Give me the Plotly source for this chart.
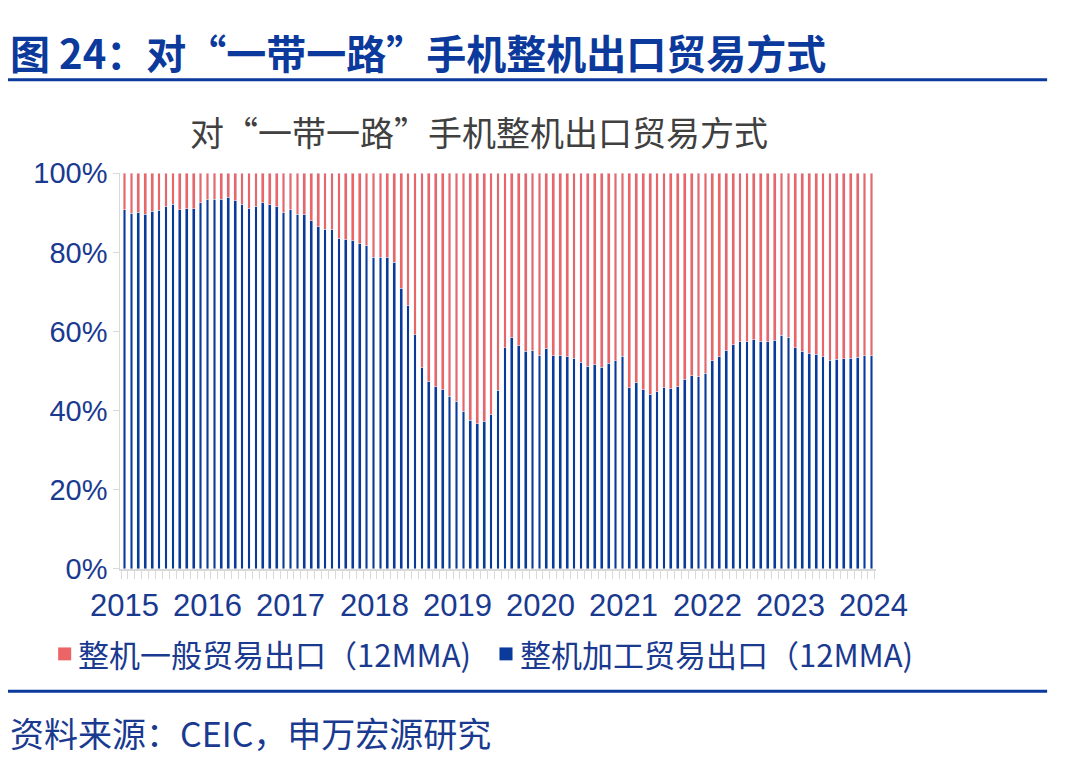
import plotly.graph_objs as go
import pandas as pd

months = pd.date_range("2015-01-01", "2024-01-01", freq="MS").strftime("%Y-%m").tolist()

# 整机加工贸易出口占比 (12MMA), %
processing = [
    90.8, 89.9, 90.1, 89.7, 90.4, 90.7, 91.6, 92.2, 90.8, 91.0, 91.0, 92.5,
    93.3, 93.5, 93.5, 94.0, 93.0, 92.2, 91.0, 91.6, 92.5, 92.1, 91.5, 90.0,
    90.8, 89.7, 89.5, 88.0, 86.5, 85.9, 85.7, 83.4, 83.2, 83.0, 82.2, 81.7,
    78.8, 78.8, 78.8, 77.5, 70.9, 66.7, 59.2, 50.8, 47.4, 46.1, 45.3, 43.7,
    42.4, 39.8, 37.6, 36.7, 37.3, 39.0, 45.1, 55.9, 58.4, 56.4, 55.0, 55.2,
    54.0, 55.6, 53.9, 53.9, 53.6, 53.2, 52.3, 51.2, 51.6, 51.0, 52.0, 52.6,
    53.7, 45.8, 47.1, 45.3, 44.2, 44.8, 45.8, 45.5, 46.0, 48.0, 48.8, 48.6,
    49.4, 52.6, 53.6, 55.2, 56.7, 57.4, 57.4, 57.9, 57.6, 57.4, 57.8, 59.1,
    58.6, 55.9, 55.0, 54.5, 54.2, 53.6, 52.8, 53.0, 53.1, 53.2, 53.5, 53.9,
    53.9,
]
general = [round(100 - v, 1) for v in processing]
year_labels = ["2015", "2016", "2017", "2018", "2019", "2020", "2021", "2022", "2023", "2024"]

RED = "#ec6566"
BLUE = "#0a3a9a"
TXT = "#1a3a90"
FONT = "Noto Sans CJK SC"
W, H = 1080, 766


def px(x):
    return (x - 10) / 0.997 / W


def py(y):
    return 1 - (y - 21.8) / 0.964 / H


idx = list(range(len(months)))
fig = go.Figure()
fig.add_trace(go.Bar(x=idx, y=processing, name="整机加工贸易出口（12MMA)", marker_color=BLUE))
fig.add_trace(go.Bar(x=idx, y=general, name="整机一般贸易出口（12MMA)", marker_color=RED))

# year labels under the axis
n = len(idx) - 1
for k, lab in enumerate(year_labels):
    pos = k * (n + 0.3) / (len(year_labels) - 1)
    fig.add_annotation(x=pos, y=py(607), xref="x", yref="paper", yanchor="middle", text=lab,
                       showarrow=False, font=dict(size=31, color=TXT, family="Liberation Sans"))

fig.update_layout(
    width=W, height=H, barmode="stack", bargap=0.6,
    plot_bgcolor="white", paper_bgcolor="white",
    margin=dict(l=0, r=0, t=0, b=0),
    font=dict(family=FONT, color=TXT),
    showlegend=False,
    xaxis=dict(domain=[px(122), px(875)], range=[-0.6, n + 0.6], showticklabels=False,
               ticks="outside", tickmode="linear", tick0=-0.5, dtick=1, ticklen=8,
               tickcolor="#d9d9d9", showline=True, linecolor="#d9d9d9", linewidth=2, showgrid=False),
    yaxis=dict(domain=[py(570), py(172)], range=[0, 100], tickvals=[0, 20, 40, 60, 80, 100],
               ticktext=["0%", "20%", "40%", "60%", "80%", "100%"], showgrid=False,
               tickfont=dict(size=29, color=TXT, family="Liberation Sans"),
               ticks="outside", ticklen=6, tickcolor="#d9d9d9", showline=True, linecolor="#d9d9d9"),
    shapes=[
        dict(type="line", xref="paper", yref="paper", x0=px(10), x1=px(1046),
             y0=py(78), y1=py(78), line=dict(color="#0b3a9c", width=3)),
        dict(type="line", xref="paper", yref="paper", x0=px(10), x1=px(1046),
             y0=py(693), y1=py(693), line=dict(color="#0b3a9c", width=3)),
        dict(type="rect", xref="paper", yref="paper", x0=px(60), x1=px(73),
             y0=py(662), y1=py(649), fillcolor=RED, line_width=0),
        dict(type="rect", xref="paper", yref="paper", x0=px(500), x1=px(513),
             y0=py(662), y1=py(649), fillcolor=BLUE, line_width=0),
    ],
)
ann = [
    (10, 50, "<b>图 24：对“一带一路”手机整机出口贸易方式</b>", 40, "#0b3a9c", "left"),
    (480, 130, "对“一带一路”手机整机出口贸易方式", 34, "#404040", "center"),
    (78, 655, "整机一般贸易出口（12MMA)", 31, TXT, "left"),
    (518, 655, "整机加工贸易出口（12MMA)", 31, TXT, "left"),
    (10, 735, "资料来源：CEIC，申万宏源研究", 34, TXT, "left"),
]
for x, y, t, s, c, a in ann:
    fig.add_annotation(x=px(x), y=py(y), xref="paper", yref="paper", text=t, showarrow=False,
                       xanchor=a, yanchor="middle", font=dict(size=s, color=c, family=FONT))

fig.write_html("out.html")
